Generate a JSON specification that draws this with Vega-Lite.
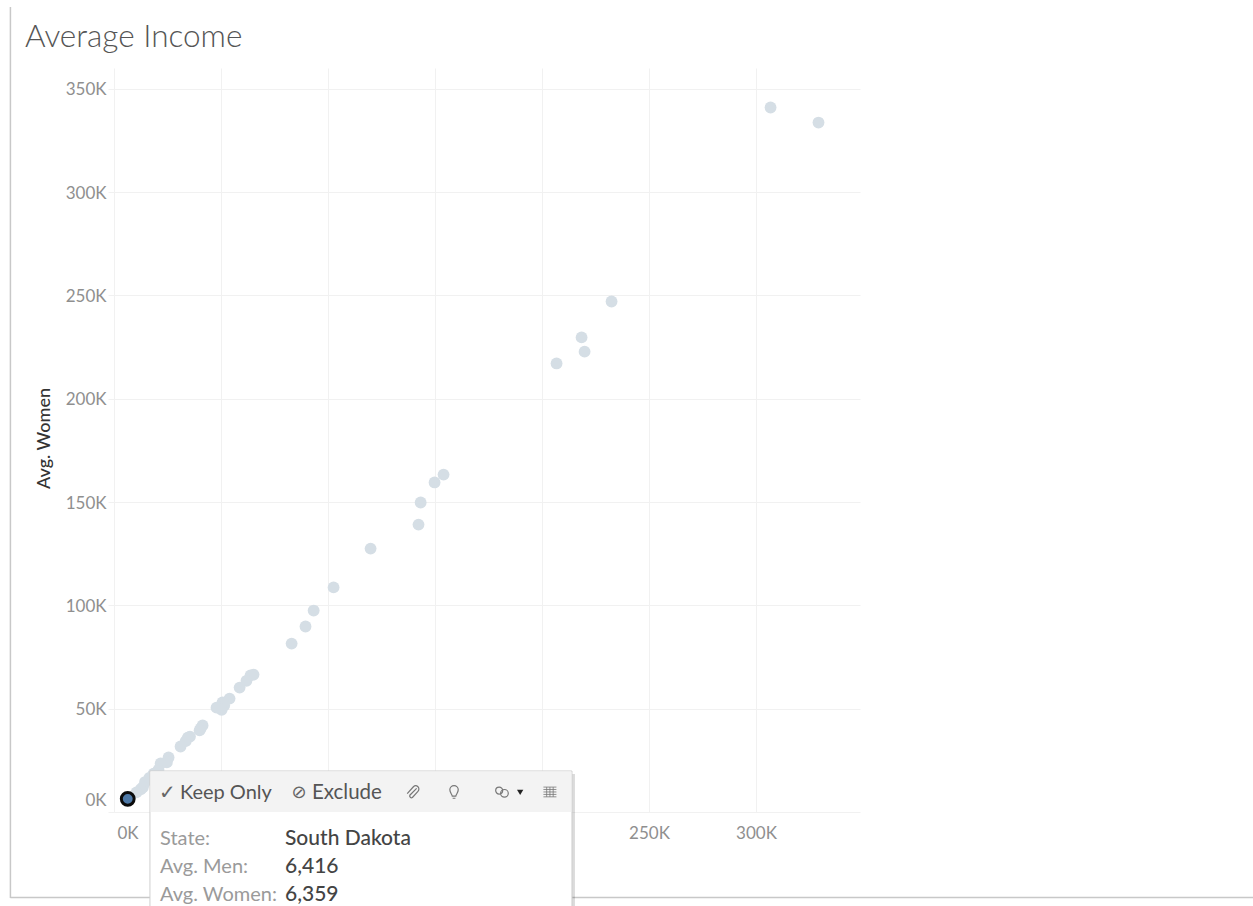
{
"$schema":"https://vega.github.io/schema/vega-lite/v6.json",
"width":746,"height":744,
"autosize":{"type":"none"},
"padding":{"left":114,"top":68,"right":393,"bottom":94},
"background":"white",
"title":{"text":"Average Income","anchor":"start","frame":"group","dx":-89,"offset":-79,"font":"Lato","fontWeight":300,"fontSize":31.5,"color":"#555555","baseline":"bottom"},
"config":{"view":{"stroke":null},"font":"Lato"},
"data":{"values":[
{"Men":306800,"Women":341000},{"Men":329200,"Women":333700},{"Men":232500,"Women":247100},{"Men":218500,"Women":229700},{"Men":219900,"Women":222800},{"Men":206800,"Women":217100},
{"Men":154000,"Women":163300},{"Men":149800,"Women":159500},{"Men":143300,"Women":149800},{"Men":142300,"Women":139100},{"Men":119900,"Women":127500},{"Men":102600,"Women":108700},{"Men":93300,"Women":97500},{"Men":89500,"Women":89800},{"Men":83000,"Women":81500},
{"Men":65200,"Women":66500},{"Men":63800,"Women":66100},{"Men":61900,"Women":63500},{"Men":58700,"Women":60200},{"Men":54000,"Women":54900},{"Men":50700,"Women":53000},{"Men":51500,"Women":51500},{"Men":50300,"Women":49500},{"Men":47900,"Women":50500},
{"Men":41400,"Women":41900},{"Men":40500,"Women":40500},{"Men":40000,"Women":39500},{"Men":35500,"Women":36500},{"Men":34500,"Women":36000},{"Men":33500,"Women":34300},{"Men":31100,"Women":31700},{"Men":25500,"Women":26400},{"Men":24700,"Women":24000},{"Men":21800,"Women":23500},{"Men":20800,"Women":20500},{"Men":18500,"Women":18500},{"Men":16500,"Women":16500},{"Men":14500,"Women":14500},{"Men":13500,"Women":12000},{"Men":12500,"Women":11000},{"Men":10500,"Women":9500},
{"Men":6416,"Women":6359,"State":"South Dakota"}
]},
"layer":[
{"mark":{"type":"circle","size":140,"opacity":1,"color":"#d5dee5"},
"encoding":{
"x":{"field":"Men","type":"quantitative","scale":{"domain":[0,348600],"nice":false,"zero":false},
"axis":{"title":null,"values":[0,50000,100000,150000,200000,250000,300000],"labelExpr":"datum.value>0&&datum.value<250000?'':format(datum.value/1000,'d')+'K'","labelFontSize":17,"labelColor":"#8f8f8f","labelPadding":13,"ticks":false,"domain":false,"gridColor":"#f1f1f1","labelFont":"Lato","labelFlush":true,"labelFlushOffset":-3}},
"y":{"field":"Women","type":"quantitative","scale":{"domain":[0,360100],"nice":false,"zero":false},
"axis":{"title":"Avg. Women","values":[0,50000,100000,150000,200000,250000,300000,350000],"labelExpr":"format(datum.value/1000,'d')+'K'","labelFontSize":17,"labelColor":"#8f8f8f","labelPadding":2,"labelOffset":1,"tickSize":6,"tickColor":"#f1f1f1","domain":false,"gridColor":"#f1f1f1","labelFont":"Lato","labelFlush":true,"labelFlushOffset":-4,"titleFont":"Lato","titleFontSize":18,"titleFontWeight":500,"titleColor":"#333333","titleX":-61,"titleY":370}}
}},
{"transform":[{"filter":"datum.State==='South Dakota'"}],"mark":{"type":"point","filled":true,"size":165,"fill":"#4e79a7","stroke":"#0b0b0b","strokeWidth":3,"opacity":1},
"encoding":{"x":{"field":"Men","type":"quantitative"},"y":{"field":"Women","type":"quantitative"}}},
{"data":{"values":[{}]},"mark":{"type":"rule","color":"#c8c8c8","strokeWidth":1.5},
"encoding":{"x":{"datum":-48400,"type":"quantitative"},"y":{"datum":389600,"type":"quantitative"},"y2":{"datum":-41600}}},
{"data":{"values":[{}]},"mark":{"type":"rule","color":"#c8c8c8","strokeWidth":1.5},
"encoding":{"x":{"datum":-48400,"type":"quantitative"},"x2":{"datum":532300},"y":{"datum":-41400,"type":"quantitative"}}},
{"data":{"values":[{}]},"mark":{"type":"rect","color":"#000000","opacity":0.14},
"encoding":{"x":{"datum":18200,"type":"quantitative"},"x2":{"datum":215400},"y":{"datum":18400,"type":"quantitative"},"y2":{"datum":-50000}}},
{"data":{"values":[{}]},"mark":{"type":"rect","fill":"#ffffff","stroke":"#cfcfcf","strokeWidth":1},
"encoding":{"x":{"datum":16800,"type":"quantitative"},"x2":{"datum":214000},"y":{"datum":19850,"type":"quantitative"},"y2":{"datum":-50000}}},
{"data":{"values":[{}]},"mark":{"type":"rect","fill":"#f3f3f3"},
"encoding":{"x":{"datum":17100,"type":"quantitative"},"x2":{"datum":213700},"y":{"datum":19600,"type":"quantitative"},"y2":{"datum":0}}},
{"data":{"values":[{}]},"mark":{"type":"text","text":"✓","align":"left","baseline":"middle","fontSize":20,"font":"DejaVu Sans","color":"#666666"},
"encoding":{"x":{"datum":21000,"type":"quantitative"},"y":{"datum":9300,"type":"quantitative"}}},
{"data":{"values":[{}]},"mark":{"type":"text","text":"Keep Only","align":"left","baseline":"middle","fontSize":20,"font":"Lato","color":"#555555"},
"encoding":{"x":{"datum":30800,"type":"quantitative"},"y":{"datum":9300,"type":"quantitative"}}},
{"data":{"values":[{}]},"mark":{"type":"text","text":"⊘","align":"left","baseline":"middle","fontSize":18,"font":"DejaVu Sans","color":"#666666"},
"encoding":{"x":{"datum":83000,"type":"quantitative"},"y":{"datum":9300,"type":"quantitative"}}},
{"data":{"values":[{}]},"mark":{"type":"text","text":"Exclude","align":"left","baseline":"middle","fontSize":20.5,"font":"Lato","color":"#555555"},
"encoding":{"x":{"datum":92500,"type":"quantitative"},"y":{"datum":9300,"type":"quantitative"}}},
{"data":{"values":[{}]},"mark":{"type":"point","size":169,"strokeWidth":1.2,"color":"#777777","opacity":1,"shape":"M0.7,-0.55 L-0.35,0.5 A0.28,0.28 0 0 0 0.05,0.85 L0.9,-0.1 A0.45,0.45 0 0 0 0.2,-0.8 L-0.75,0.25"},
"encoding":{"x":{"datum":139300,"type":"quantitative"},"y":{"datum":9700,"type":"quantitative"}}},
{"data":{"values":[{}]},"mark":{"type":"point","size":196,"strokeWidth":1.2,"color":"#777777","opacity":1,"shape":"M-0.6,-0.3 A0.6,0.6 0 1 1 0.6,-0.3 C0.6,0.1 0.3,0.3 0.25,0.6 L-0.25,0.6 C-0.3,0.3 -0.6,0.1 -0.6,-0.3 Z M-0.2,0.9 L0.2,0.9"},
"encoding":{"x":{"datum":158900,"type":"quantitative"},"y":{"datum":9700,"type":"quantitative"}}},
{"data":{"values":[{}]},"mark":{"type":"point","size":196,"strokeWidth":1.2,"color":"#777777","opacity":1,"shape":"M-0.9,-0.2 A0.5,0.5 0 1 1 0.1,-0.2 A0.5,0.5 0 1 1 -0.9,-0.2 Z M-0.2,0.2 A0.55,0.55 0 1 1 0.9,0.2 A0.55,0.55 0 1 1 -0.2,0.2 Z"},
"encoding":{"x":{"datum":181300,"type":"quantitative"},"y":{"datum":9700,"type":"quantitative"}}},
{"data":{"values":[{}]},"mark":{"type":"point","filled":true,"size":40,"color":"#222222","opacity":1,"shape":"triangle-down"},
"encoding":{"x":{"datum":189800,"type":"quantitative"},"y":{"datum":9500,"type":"quantitative"}}},
{"data":{"values":[{}]},"mark":{"type":"point","size":169,"strokeWidth":0.8,"color":"#777777","opacity":1,"shape":"M-1,-0.75 L1,-0.75 M-1,-0.38 L1,-0.38 M-1,0 L1,0 M-1,0.38 L1,0.38 M-1,0.75 L1,0.75 M-0.5,-0.75 L-0.5,0.75 M0,-0.75 L0,0.75 M0.5,-0.75 L0.5,0.75"},
"encoding":{"x":{"datum":203700,"type":"quantitative"},"y":{"datum":9700,"type":"quantitative"}}},
{"data":{"values":[{}]},"mark":{"type":"text","text":"State:","align":"left","baseline":"middle","fontSize":20,"font":"Lato","color":"#9a9a9a"},
"encoding":{"x":{"datum":21500,"type":"quantitative"},"y":{"datum":-13100,"type":"quantitative"}}},
{"data":{"values":[{}]},"mark":{"type":"text","text":"Avg. Men:","align":"left","baseline":"middle","fontSize":20,"font":"Lato","color":"#9a9a9a"},
"encoding":{"x":{"datum":21500,"type":"quantitative"},"y":{"datum":-26600,"type":"quantitative"}}},
{"data":{"values":[{}]},"mark":{"type":"text","text":"Avg. Women:","align":"left","baseline":"middle","fontSize":20,"font":"Lato","color":"#9a9a9a"},
"encoding":{"x":{"datum":21500,"type":"quantitative"},"y":{"datum":-40200,"type":"quantitative"}}},
{"transform":[{"filter":"datum.State==='South Dakota'"}],"mark":{"type":"text","align":"left","baseline":"middle","fontSize":21,"fontWeight":500,"font":"Lato","color":"#444444"},
"encoding":{"text":{"field":"State"},"x":{"datum":79900,"type":"quantitative"},"y":{"datum":-13100,"type":"quantitative"}}},
{"transform":[{"filter":"datum.State==='South Dakota'"}],"mark":{"type":"text","align":"left","baseline":"middle","fontSize":21,"fontWeight":500,"font":"Lato","color":"#444444"},
"encoding":{"text":{"field":"Men","type":"quantitative","format":","},"x":{"datum":79900,"type":"quantitative"},"y":{"datum":-26600,"type":"quantitative"}}},
{"transform":[{"filter":"datum.State==='South Dakota'"}],"mark":{"type":"text","align":"left","baseline":"middle","fontSize":21,"fontWeight":500,"font":"Lato","color":"#444444"},
"encoding":{"text":{"field":"Women","type":"quantitative","format":","},"x":{"datum":79900,"type":"quantitative"},"y":{"datum":-40200,"type":"quantitative"}}}
]
}
